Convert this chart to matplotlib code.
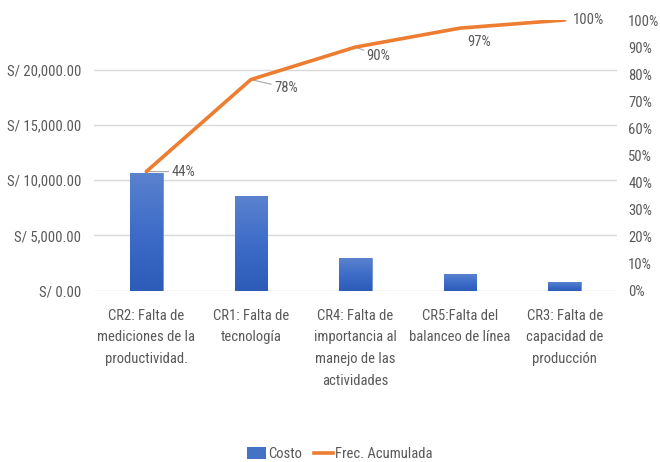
import numpy as np
import matplotlib
matplotlib.use("Agg")
import matplotlib.pyplot as plt
from matplotlib.patches import Patch
from matplotlib.lines import Line2D
from matplotlib.colors import LinearSegmentedColormap
from matplotlib import font_manager

categories = [
    "CR2: Falta de\nmediciones de la\nproductividad.",
    "CR1: Falta de\ntecnología",
    "CR4: Falta de\nimportancia al\nmanejo de las\nactividades",
    "CR5:Falta del\nbalanceo de línea",
    "CR3: Falta de\ncapacidad de\nproducción",
]
costo = [10670, 8590, 2930, 1480, 810]
frec_acumulada = [0.44, 0.78, 0.90, 0.97, 1.00]
left_ticks = [0, 5000, 10000, 15000, 20000]
left_tick_labels = ["S/ 0.00", "S/ 5,000.00", "S/ 10,000.00", "S/ 15,000.00", "S/ 20,000.00"]
right_ticks = [i / 10 for i in range(11)]
right_tick_labels = [f"{i*10}%" for i in range(11)]

avail = {f.name for f in font_manager.fontManager.ttflist}
fam = [f for f in ["Liberation Sans Narrow", "Roboto Condensed", "DejaVu Sans"] if f in avail] or ["DejaVu Sans"]
plt.rcParams["font.family"] = fam + ["DejaVu Sans"]

TXT = "#595959"
GRID = "#D9D9D9"
ORANGE = "#ED7D31"
FS = 10.5

fig = plt.figure(figsize=(6.6, 4.62), dpi=100)
ax = fig.add_axes([94 / 660, 1 - 290.7 / 462, (617 - 94) / 660, (290.7 - 20) / 462])
x = np.arange(len(categories))

bars = ax.bar(x, costo, width=0.31, color="#4472C4", zorder=2, edgecolor="#6F93D6", linewidth=0.6)
grad = np.linspace(0, 1, 256).reshape(-1, 1)
cmap = LinearSegmentedColormap.from_list("g", ["#2C5CB8", "#3E6CC8", "#5A82CE"])
for b in bars:
    bx, by = b.get_x(), b.get_y()
    bw, bh = b.get_width(), b.get_height()
    im = ax.imshow(grad, extent=[bx, bx + bw, by, by + bh], origin="lower",
                   aspect="auto", cmap=cmap, zorder=2.5)
    im.set_clip_path(b)

ax.set_xlim(-0.5, len(categories) - 0.5)
ax.set_ylim(0, 24480)
ax.set_yticks(left_ticks)
ax.set_yticklabels(left_tick_labels)
ax.set_xticks(x)
ax.set_xticklabels(categories, linespacing=1.7)
ax.tick_params(axis="both", length=0, labelsize=FS, labelcolor=TXT)
ax.tick_params(axis="y", pad=9)
ax.tick_params(axis="x", pad=13)
ax.grid(axis="y", color=GRID, linewidth=1, zorder=0)
ax.set_axisbelow(True)
for s in ax.spines.values():
    s.set_visible(False)

ax2 = ax.twinx()
ax2.plot(x, frec_acumulada, color=ORANGE, linewidth=2.6, zorder=5, solid_capstyle="round")
ax2.set_ylim(0, 1.0)
ax2.set_yticks(right_ticks)
ax2.set_yticklabels(right_tick_labels)
ax2.tick_params(axis="y", length=0, labelsize=FS, labelcolor=TXT, pad=8)
for s in ax2.spines.values():
    s.set_visible(False)

offsets = [(25, 0, "left", True), (23, -8, "left", True), (11, -9, "left", True),
           (19, -14, "center", False), (8, 0, "left", False)]
for xi, v, (dx, dy, ha, lead) in zip(x, frec_acumulada, offsets):
    kw = {}
    if lead:
        kw["arrowprops"] = dict(arrowstyle="-", color="#A6A6A6", lw=0.8, shrinkA=0, shrinkB=1)
    ax2.annotate(f"{v:.0%}", xy=(xi, v), xytext=(dx, dy), textcoords="offset pixels",
                 ha=ha, va="center", fontsize=FS, color=TXT, **kw)

handles = [Patch(facecolor="#4472C4", edgecolor="none"),
           Line2D([0], [0], color=ORANGE, linewidth=2.6)]
fig.legend(handles, ["Costo", "Frec. Acumulada"], loc="center",
           bbox_to_anchor=(0.515, 1 - 454 / 462), ncol=2, frameon=False,
           fontsize=FS, labelcolor=TXT, handlelength=1.3, handleheight=0.8,
           handletextpad=0.15, columnspacing=0.8)

fig.savefig("out.png", dpi=100)
